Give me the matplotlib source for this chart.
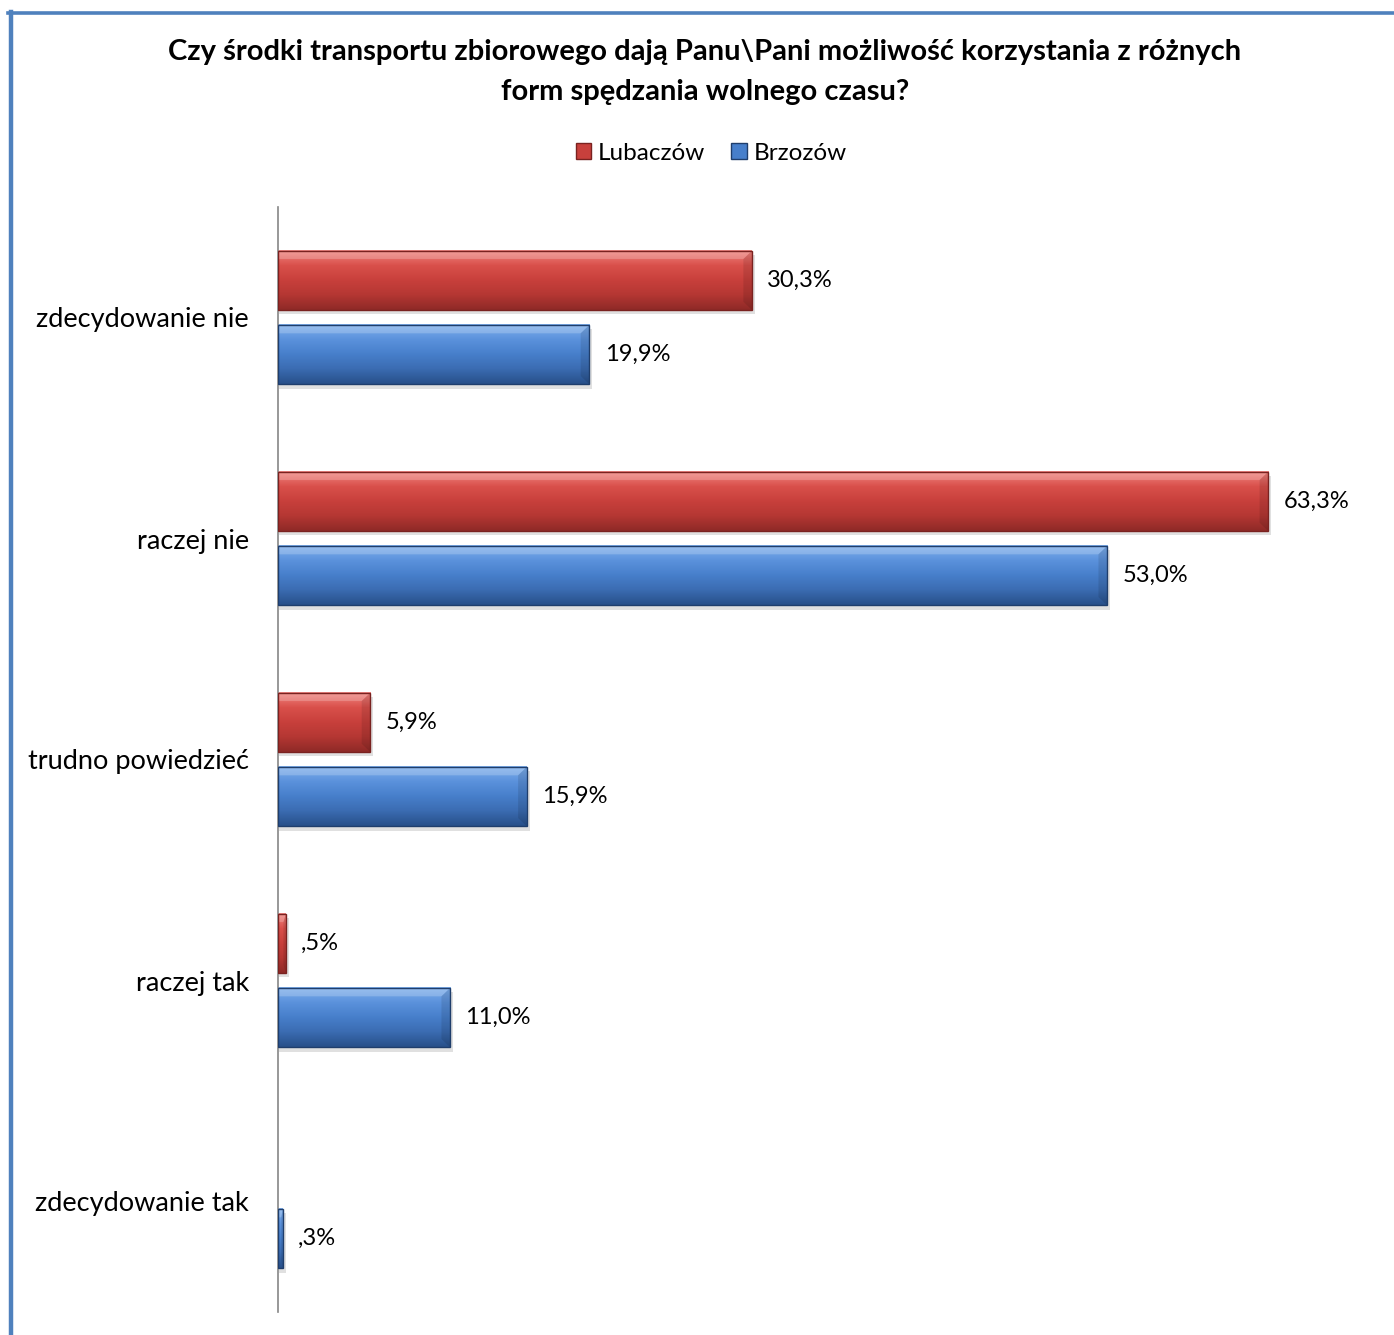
import numpy as np
import matplotlib.pyplot as plt
from matplotlib.patches import Rectangle, Patch, Polygon
from matplotlib.lines import Line2D
from matplotlib.colors import LinearSegmentedColormap

plt.rcParams['font.family'] = ['Lato', 'DejaVu Sans']

# data
categories = ["zdecydowanie nie", "raczej nie", "trudno powiedzieć", "raczej tak", "zdecydowanie tak"]
series_names = ["Lubaczów", "Brzozów"]
lubaczow = [30.3, 63.3, 5.9, 0.5, np.nan]
brzozow = [19.9, 53.0, 15.9, 11.0, 0.3]
labels_lub = ["30,3%", "63,3%", "5,9%", ",5%", ""]
labels_brz = ["19,9%", "53,0%", "15,9%", "11,0%", ",3%"]

title = "Czy środki transportu zbiorowego dają Panu\\Pani możliwość korzystania z różnych\nform spędzania wolnego czasu?"

# colour ramps (top -> bottom) for the bevelled look
red_cols = ["#f08580", "#d9504b", "#c8403c", "#b53733", "#8f2a27"]
blue_cols = ["#7fb0ec", "#5b92dc", "#477fcb", "#3b6cb2", "#28508a"]
red_edge = "#7a2220"
blue_edge = "#1f3e6c"

W, H = 1394, 1335
fig = plt.figure(figsize=(W / 100, H / 100), dpi=100)

# outer frame (blue lines on top and left)
fig.add_artist(Line2D([8 / W, 1.0], [1 - 13 / H, 1 - 13 / H], color="#4f81bd", lw=2.6))
fig.add_artist(Line2D([11 / W, 11 / W], [1 - 12 / H, 0.0], color="#4f81bd", lw=3.2))

left, right, top, bottom = 278, 1373, 207, 1312
ax = fig.add_axes([left / W, 1 - bottom / H, (right - left) / W, (bottom - top) / H])
ax.set_xlim(0, 70)
ax.set_ylim(4.5, -0.5)
for s in ["top", "right", "bottom"]:
    ax.spines[s].set_visible(False)
ax.spines["left"].set_color("#868686")
ax.spines["left"].set_linewidth(1.2)
ax.set_xticks([])
ax.set_yticks(range(len(categories)))
ax.set_yticklabels(categories, fontsize=19.5)
ax.tick_params(axis="y", length=0, pad=21)

bh = 0.268
off = 0.168


def bevel_bar(y, w, cols, edge):
    if np.isnan(w) or w <= 0:
        return
    y0, y1 = y - bh / 2, y + bh / 2
    # shadow
    ax.add_patch(Rectangle((0.05, y0 + 0.02), w + 0.15, bh, color="#000000", alpha=0.12, lw=0, zorder=1))
    cmap = LinearSegmentedColormap.from_list("g", cols)
    grad = np.linspace(0, 1, 64).reshape(-1, 1)
    ax.imshow(grad, cmap=cmap, aspect="auto", extent=(0, w, y1, y0),
              origin="upper", zorder=2, interpolation="bilinear")
    # bevel: light top strip, dark right end with slanted corners
    bw = min(0.55, w * 0.3)
    bt = bh * 0.14
    ax.add_patch(Polygon([(0, y0), (w, y0), (w - bw, y0 + bt), (0, y0 + bt)],
                         closed=True, color="white", alpha=0.2, lw=0, zorder=3))
    ax.add_patch(Polygon([(w, y0), (w, y1), (w - bw, y1 - bt), (w - bw, y0 + bt)],
                         closed=True, color="black", alpha=0.1, lw=0, zorder=3))
    ax.add_patch(Rectangle((0, y0), w, bh, fill=False, ec=edge, lw=1.0, zorder=4))


for i in range(len(categories)):
    bevel_bar(i - off, lubaczow[i], red_cols, red_edge)
    bevel_bar(i + off, brzozow[i], blue_cols, blue_edge)
    if labels_lub[i]:
        ax.annotate(labels_lub[i], (lubaczow[i], i - off), xytext=(11, 0), textcoords="offset points",
                    va="center", ha="left", fontsize=17)
    if labels_brz[i]:
        ax.annotate(labels_brz[i], (brzozow[i], i + off), xytext=(11, 0), textcoords="offset points",
                    va="center", ha="left", fontsize=17)

fig.text(705 / W, 1 - 72 / H, title, ha="center", va="center", fontsize=21,
         fontweight="bold", linespacing=1.7)

handles = [Patch(facecolor=red_cols[2], edgecolor=red_edge), Patch(facecolor=blue_cols[2], edgecolor=blue_edge)]
fig.legend(handles, series_names, loc="center", bbox_to_anchor=(711 / W, 1 - 153 / H), ncol=2,
           frameon=False, fontsize=17.5, handlelength=0.65, handleheight=0.65,
           handletextpad=0.25, columnspacing=1.1)

fig.savefig("out.png", dpi=100)
